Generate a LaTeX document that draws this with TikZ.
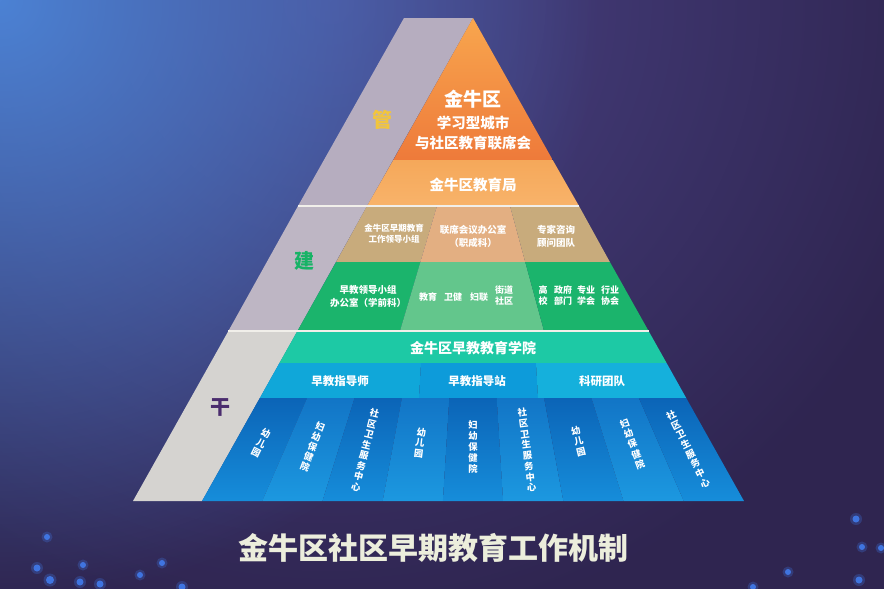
\documentclass[tikz,border=0pt]{standalone}
\usepackage{fontspec}
\setmainfont{Noto Sans CJK SC}
\usetikzlibrary{calc,fadings}
\definecolor{bgA}{HTML}{2F2550}
\definecolor{bgTop}{HTML}{4A4386}
\definecolor{bgB}{HTML}{4C82D4}
\definecolor{grA}{HTML}{B6ADBF}
\definecolor{grB}{HTML}{BEB6C4}
\definecolor{grC}{HTML}{D5D3D0}
\definecolor{orA}{HTML}{F8A64E}
\definecolor{orB}{HTML}{EE7A3A}
\definecolor{orC}{HTML}{F5A85A}
\definecolor{orD}{HTML}{F8B36A}
\definecolor{tanS}{HTML}{C8AB7C}
\definecolor{tanM}{HTML}{E3AF82}
\definecolor{grnS}{HTML}{1BB46C}
\definecolor{grnM}{HTML}{63C68C}
\definecolor{tealc}{HTML}{1DC9A5}
\definecolor{cyL}{HTML}{10A7D9}
\definecolor{cyM}{HTML}{0D9BDA}
\definecolor{cyR}{HTML}{15B0DC}
\definecolor{bluA}{HTML}{0B64B7}
\definecolor{bluB}{HTML}{168DDA}
\definecolor{bluC}{HTML}{1275C6}
\definecolor{bluD}{HTML}{1C98E0}
\definecolor{guanC}{HTML}{F2C53C}
\definecolor{jianC}{HTML}{17B366}
\definecolor{ganC}{HTML}{4B2C6E}
\definecolor{titleC}{HTML}{ECEEDC}
\definecolor{sepC}{HTML}{F1EFEA}
\definecolor{dotC}{HTML}{427EF2}
\tikzfading[name=glowfade,inner color=transparent!0,outer color=transparent!100]
\begin{document}
\begin{tikzpicture}[x=1pt,y=-1pt,
  txt/.style={text=white,font=\bfseries,inner sep=0pt,align=center},
  big/.style={txt,font=\fontsize{19}{21}\selectfont\bfseries},
  mid/.style={txt,font=\fontsize{14.5}{19}\selectfont\bfseries},
  sml/.style={txt,font=\fontsize{9.5}{13}\selectfont\bfseries},
  tiny/.style={txt,font=\fontsize{8.5}{11}\selectfont\bfseries},
  pair/.style={txt,font=\fontsize{9}{11}\selectfont\bfseries},
  band/.style={txt,font=\fontsize{11.5}{14}\selectfont\bfseries},
  vert/.style={txt,font=\fontsize{9.3}{10.8}\selectfont\bfseries},
  sidelab/.style={inner sep=0pt,font=\fontsize{20}{22}\selectfont\bfseries},
  sep/.style={draw=sepC,line width=2.2pt},
  dot/.style={fill=dotC}]
\useasboundingbox (0,0) rectangle (884,589);
% background
\begin{scope}
\clip (0,0) rectangle (884,589);
\fill[bgA] (0,0) rectangle (884,589);
\fill[bgTop,path fading=glowfade] (330,0) circle[radius=640pt];
\fill[bgB,path fading=glowfade] (0,0) circle[radius=600pt];
\foreach \px/\py/\r in {37/568/3.5,50/580/4,80/582/3.5,100/584/3.5,83/565/3,47/537/3,140/575/3,162/563/3,182/587/3.5,856/519/3.5,862/547/3,881/548/3,859/580/3.5,788/572/3,753/587/3}{
  \fill[dot,opacity=0.25] (\px,\py) circle[radius=\r pt+2.5pt];
  \fill[dot,opacity=0.85] (\px,\py) circle[radius=\r pt];
}
\end{scope}
% grey band
\fill[grA] (404,18) -- (473,18) -- (367,206) -- (298,206) -- cycle;
\fill[grB] (298,206) -- (367,206) -- (297.4,331) -- (228.4,331) -- cycle;
\fill[grC] (228.4,331) -- (297.4,331) -- (202,501) -- (133,501) -- cycle;
% orange
\shade[top color=orA,bottom color=orB] (473,18) -- (552.7,160) -- (393.3,160) -- cycle;
\shade[top color=orC,bottom color=orD] (393.3,160) -- (552.7,160) -- (579,206) -- (367,206) -- cycle;
% tan
\fill[tanS] (367,206) -- (437,206) -- (420.4,262) -- (336.1,262) -- cycle;
\fill[tanM] (437,206) -- (510,206) -- (525.2,262) -- (420.4,262) -- cycle;
\fill[tanS] (510,206) -- (579,206) -- (609.9,262) -- (525.2,262) -- cycle;
% green
\fill[grnS] (336.1,262) -- (420.4,262) -- (400,331) -- (297.4,331) -- cycle;
\fill[grnM] (420.4,262) -- (525.2,262) -- (544,331) -- (400,331) -- cycle;
\fill[grnS] (525.2,262) -- (609.9,262) -- (648.6,331) -- (544,331) -- cycle;
% teal
\fill[tealc] (297.4,331) -- (648.6,331) -- (666.6,363) -- (279.4,363) -- cycle;
% cyan
\fill[cyL] (279.4,363) -- (421,363) -- (419,398) -- (259.8,398) -- cycle;
\fill[cyM] (421,363) -- (536,363) -- (538,398) -- (419,398) -- cycle;
\fill[cyR] (536,363) -- (666.6,363) -- (686.2,398) -- (538,398) -- cycle;
% blue columns
\foreach \i in {0,...,8}{
  \pgfmathsetmacro\ta{259.8+47.38*\i}
  \pgfmathsetmacro\tb{259.8+47.38*(\i+1)}
  \pgfmathsetmacro\ba{202+60.22*\i}
  \pgfmathsetmacro\bb{202+60.22*(\i+1)}
  \pgfmathtruncatemacro\odd{mod(\i,2)}
  \ifnum\odd=0
    \shade[top color=bluA,bottom color=bluB] (\ta,398) -- (\tb,398) -- (\bb,501) -- (\ba,501) -- cycle;
  \else
    \shade[top color=bluC,bottom color=bluD] (\ta,398) -- (\tb,398) -- (\bb,501) -- (\ba,501) -- cycle;
  \fi
}
% separators
\draw[sep] (298,206) -- (579,206);
\draw[sep] (228.4,331) -- (648.6,331);
% side labels
\node[sidelab,text=guanC] (guan) at (382,120) {管};
\node[sidelab,text=jianC] (jian) at (304,261) {建};
\node[sidelab,text=ganC] (gan) at (220,407) {干};
% top texts
\node[big] (jnq) at (473,99) {金牛区};
\node[mid] (xxx) at (473,123) {学习型城市};
\node[mid] (lxh) at (473,143) {与社区教育联席会};
\node[mid] (jyj) at (473,185) {金牛区教育局};
% tan texts
\node[tiny] (zqjy) at (394,234) {金牛区早期教育\\工作领导小组};
\node[sml] (lxbgs) at (473,236) {联席会议办公室\\（职成科）};
\node[sml] (zjzx) at (556,236) {专家咨询\\顾问团队};
% green texts
\node[sml] (zjld) at (368,296) {早教领导小组\\办公室（学前科）};
\node[pair] (jy) at (428,297) {教育};
\node[pair] (wj) at (453,297) {卫健};
\node[pair] (fl) at (479,297) {妇联};
\node[pair] (jd) at (504,296) {街道\\社区};
\node[pair] (gx) at (543,296) {高\\校};
\node[pair] (zf) at (563,296) {政府\\部门};
\node[pair] (zy) at (586,296) {专业\\学会};
\node[pair] (hy) at (610,296) {行业\\协会};
% teal / cyan
\node[txt,font=\fontsize{14}{16}\selectfont\bfseries] (xy) at (473,348) {金牛区早教教育学院};
\node[band] (zds) at (340,381) {早教指导师};
\node[band] (zdz) at (477,381) {早教指导站};
\node[band] (kytd) at (602,381) {科研团队};
% blue column labels
\foreach \i/\t/\yc in {0/{幼\\儿\\园}/443,1/{妇\\幼\\保\\健\\院}/447,2/{社\\区\\卫\\生\\服\\务\\中\\心}/450,
  3/{幼\\儿\\园}/443,4/{妇\\幼\\保\\健\\院}/447,5/{社\\区\\卫\\生\\服\\务\\中\\心}/450,
  6/{幼\\儿\\园}/441,7/{妇\\幼\\保\\健\\院}/444,8/{社\\区\\卫\\生\\服\\务\\中\\心}/449}{
  \pgfmathsetmacro\tc{259.8+47.38*(\i+0.5)}
  \pgfmathsetmacro\bc{202+60.22*(\i+0.5)}
  \pgfmathsetmacro\xx{\tc+(\yc-398)/103*(\bc-\tc)}
  \pgfmathsetmacro\ang{atan((\bc-\tc)/103)}
  \node[vert,rotate=\ang] (lab\i) at (\xx,\yc) {\t};
}
% title
\node[inner sep=0pt,text=titleC,font=\fontsize{30}{32}\selectfont\bfseries] (title) at (433,548) {金牛区社区早期教育工作机制};
\end{tikzpicture}
\end{document}
